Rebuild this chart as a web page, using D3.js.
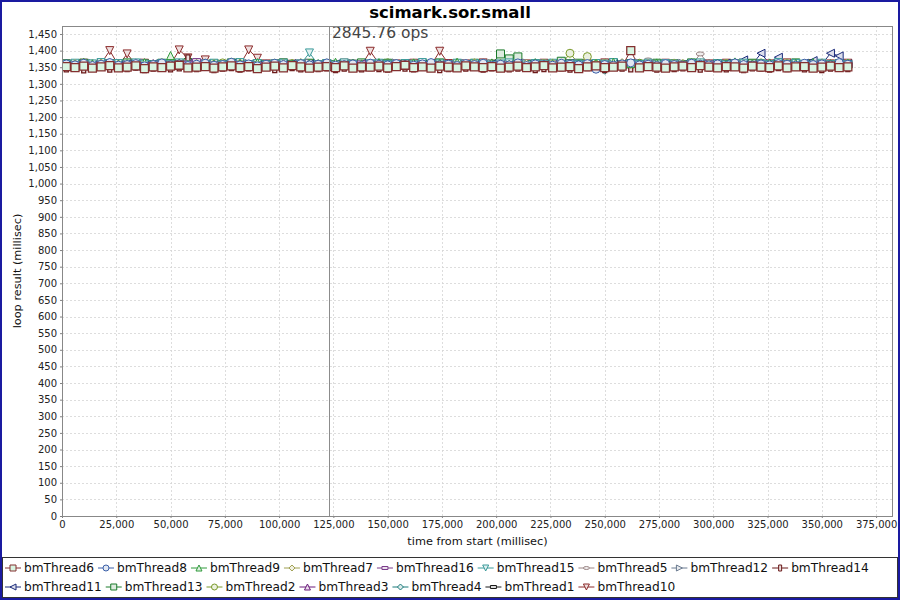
<!DOCTYPE html>
<html><head><meta charset="utf-8">
<script src="https://cdn.jsdelivr.net/npm/d3@7/dist/d3.min.js"></script>
<style>body{margin:0;background:#fff}svg{display:block}</style>
</head><body><svg id="c" width="900" height="600"></svg>
<script>
const title = "scimark.sor.small";
const yLabel = "loop result (millisec)";
const xLabel = "time from start (millisec)";
const markerValue = 123000;
const markerText = "2845.76 ops";
const yTicks = d3.range(0, 1451, 50);
const xTicks = d3.range(0, 375001, 25000);
const seriesNames = ["bmThread6","bmThread8","bmThread9","bmThread7","bmThread16","bmThread15","bmThread5","bmThread12","bmThread14","bmThread11","bmThread13","bmThread2","bmThread3","bmThread4","bmThread1","bmThread10"];
const seriesColors = ["#843030","#3a5fa8","#2e9a3a","#a0a050","#7a3a8a","#3a9a9a","#9a8585","#6a7a90","#6b1a1a","#1a2a7a","#1a7a2a","#7a9a2a","#6a1a7a","#1a7a7a","#1a1a1a","#8b2a2a"];
const times = [2000,6000,10000,14000,18000,22000,26000,30000,34000,38000,42000,46000,50000,54000,58000,62000,66000,70000,74000,78000,82000,86000,90000,94000,98000,102000,106000,110000,114000,118000,122000,126000,130000,134000,138000,142000,146000,150000,154000,158000,162000,166000,170000,174000,178000,182000,186000,190000,194000,198000,202000,206000,210000,214000,218000,222000,226000,230000,234000,238000,242000,246000,250000,254000,258000,262000,266000,270000,274000,278000,282000,286000,290000,294000,298000,302000,306000,310000,314000,318000,322000,326000,330000,334000,338000,342000,346000,350000,354000,358000,362000];
const bmThread6 = [1352,1349,1353,1347,1351,1355,1348,1350,1354,1346,1351,1349,1353,1356,1348,1350,1352,1347,1351,1354,1349,1352,1346,1350,1353,1348,1355,1351,1347,1350,1352,1349,1354,1347,1351,1350,1353,1348,1352,1356,1349,1351,1347,1353,1350,1348,1354,1351,1349,1352,1347,1350,1353,1349,1351,1355,1348,1350,1352,1346,1351,1354,1349,1350,1353,1400,1348,1352,1350,1347,1351,1353,1349,1355,1350,1348,1352,1351,1347,1353,1350,1349,1354,1348,1351,1352,1347,1350,1353,1349,1351];
const bmThread8 = [1360,1357,1362,1355,1359,1364,1356,1358,1361,1354,1358,1363,1357,1360,1355,1359,1362,1356,1358,1365,1357,1360,1354,1359,1362,1358,1356,1361,1357,1359,1363,1356,1358,1360,1355,1362,1359,1357,1361,1358,1356,1360,1364,1357,1359,1355,1361,1358,1362,1356,1359,1357,1363,1355,1360,1358,1356,1362,1359,1357,1361,1344,1358,1356,1360,1363,1357,1359,1355,1361,1358,1356,1362,1359,1357,1360,1355,1363,1358,1356,1360,1357,1361,1359,1356,1362,1358,1360,1357,1364,1359];
const bmThread9 = [1362,1358,1365,1360,1357,1363,1359,1361,1356,1364,1360,1358,1385,1362,1359,1357,1363,1360,1358,1366,1361,1357,1364,1359,1362,1356,1360,1363,1358,1361,1359,1365,1357,1362,1360,1358,1364,1356,1361,1359,1363,1357,1360,1362,1358,1365,1359,1361,1357,1363,1360,1358,1362,1356,1364,1359,1361,1357,1363,1360,1358,1362,1359,1365,1357,1361,1360,1356,1363,1359,1361,1358,1364,1360,1357,1362,1359,1366,1358,1361,1359,1363,1357,1360,1362,1358,1364,1359,1361,1357,1362];
const bmThread7 = [1357,1361,1355,1359,1363,1356,1360,1358,1362,1355,1359,1364,1357,1360,1356,1362,1358,1361,1355,1359,1363,1357,1360,1358,1356,1361,1359,1364,1357,1360,1355,1362,1358,1360,1357,1363,1359,1356,1361,1358,1360,1357,1362,1355,1359,1361,1358,1364,1356,1360,1362,1358,1356,1361,1359,1357,1363,1360,1358,1355,1359,1362,1357,1360,1364,1358,1356,1361,1359,1357,1363,1360,1358,1356,1361,1359,1357,1362,1360,1355,1358,1361,1359,1363,1357,1360,1356,1362,1358,1360,1357];
const bmThread16 = [1356,1359,1354,1358,1361,1355,1357,1360,1353,1358,1360,1355,1358,1356,1362,1370,1357,1359,1354,1358,1361,1356,1359,1357,1355,1360,1358,1362,1356,1359,1357,1354,1360,1358,1363,1356,1359,1357,1361,1355,1358,1360,1356,1359,1362,1357,1355,1360,1358,1356,1361,1359,1357,1355,1360,1358,1362,1356,1359,1357,1354,1360,1358,1356,1361,1359,1357,1362,1355,1358,1360,1357,1359,1356,1363,1358,1355,1360,1357,1359,1361,1356,1358,1360,1355,1359,1357,1362,1358,1356,1359];
const bmThread15 = [1359,1362,1357,1360,1364,1358,1361,1356,1363,1359,1357,1361,1359,1363,1356,1360,1358,1362,1357,1360,1364,1358,1361,1357,1359,1362,1356,1360,1393,1358,1361,1357,1363,1359,1356,1360,1362,1358,1357,1361,1359,1364,1356,1360,1358,1362,1357,1361,1359,1356,1360,1363,1358,1357,1361,1359,1362,1356,1360,1358,1357,1361,1359,1364,1356,1360,1358,1362,1357,1361,1359,1356,1360,1363,1358,1361,1357,1359,1362,1356,1360,1358,1364,1357,1361,1359,1356,1362,1358,1360,1357];
const bmThread5 = [1358,1355,1360,1357,1362,1356,1359,1361,1354,1358,1361,1357,1359,1355,1362,1358,1356,1360,1357,1363,1356,1359,1361,1357,1358,1355,1360,1362,1356,1359,1357,1361,1355,1360,1358,1363,1356,1359,1357,1361,1355,1358,1362,1356,1360,1357,1359,1361,1355,1358,1362,1356,1359,1357,1361,1358,1355,1360,1363,1356,1359,1357,1361,1355,1358,1362,1356,1372,1357,1360,1358,1361,1356,1390,1359,1357,1362,1355,1360,1358,1356,1361,1359,1357,1363,1355,1360,1358,1362,1356,1359];
const bmThread12 = [1357,1360,1356,1362,1358,1355,1361,1359,1357,1363,1355,1359,1361,1357,1360,1356,1362,1358,1355,1360,1358,1362,1357,1355,1361,1359,1356,1360,1363,1357,1360,1356,1358,1362,1355,1359,1361,1357,1363,1356,1359,1361,1355,1358,1360,1356,1362,1357,1359,1361,1356,1360,1358,1363,1355,1361,1357,1359,1356,1362,1360,1355,1358,1361,1357,1359,1363,1356,1360,1358,1355,1362,1357,1359,1361,1356,1360,1358,1364,1357,1361,1359,1356,1360,1362,1358,1355,1361,1357,1359,1360];
const bmThread14 = [1348,1352,1345,1350,1354,1347,1351,1349,1353,1346,1350,1354,1348,1351,1375,1349,1353,1346,1350,1352,1347,1351,1349,1354,1346,1350,1352,1348,1353,1349,1351,1346,1350,1353,1348,1352,1349,1347,1354,1350,1348,1353,1351,1346,1349,1352,1350,1354,1347,1351,1353,1348,1350,1352,1346,1349,1354,1351,1347,1350,1352,1349,1346,1353,1350,1348,1351,1354,1347,1352,1349,1351,1353,1347,1350,1352,1348,1354,1346,1351,1350,1347,1352,1349,1353,1348,1351,1346,1350,1354,1349];
const bmThread11 = [1356,1359,1354,1358,1361,1355,1357,1360,1353,1358,1360,1355,1358,1356,1361,1357,1359,1354,1358,1362,1356,1359,1357,1355,1360,1358,1361,1356,1359,1357,1354,1360,1358,1356,1361,1357,1359,1355,1358,1362,1357,1355,1360,1358,1356,1361,1359,1357,1354,1360,1358,1356,1361,1359,1357,1355,1360,1358,1362,1356,1359,1357,1355,1360,1358,1361,1356,1359,1357,1354,1360,1358,1356,1361,1359,1357,1362,1355,1372,1358,1392,1360,1380,1357,1359,1362,1370,1358,1392,1384,1360];
const bmThread13 = [1360,1357,1362,1358,1355,1361,1359,1363,1356,1360,1358,1362,1357,1360,1364,1356,1359,1361,1357,1363,1359,1356,1361,1358,1360,1363,1357,1359,1362,1356,1361,1358,1360,1356,1363,1359,1357,1362,1358,1360,1357,1361,1359,1363,1356,1360,1358,1362,1357,1359,1390,1375,1381,1358,1361,1357,1360,1368,1359,1362,1356,1360,1358,1363,1357,1361,1359,1356,1362,1358,1360,1357,1363,1359,1356,1361,1358,1360,1357,1362,1359,1356,1361,1358,1363,1357,1360,1359,1356,1361,1358];
const bmThread2 = [1358,1361,1356,1360,1357,1363,1359,1355,1362,1358,1356,1360,1358,1362,1357,1359,1361,1356,1363,1358,1360,1357,1359,1355,1362,1358,1361,1357,1360,1356,1362,1359,1357,1361,1358,1356,1360,1363,1357,1359,1361,1356,1358,1360,1357,1363,1359,1355,1361,1358,1357,1360,1362,1356,1359,1361,1358,1357,1392,1360,1382,1358,1361,1356,1360,1357,1362,1359,1356,1361,1358,1360,1357,1362,1356,1359,1361,1358,1360,1357,1363,1356,1359,1361,1358,1360,1357,1362,1356,1359,1361];
const bmThread3 = [1359,1356,1361,1358,1355,1360,1362,1357,1359,1354,1361,1357,1360,1356,1358,1363,1355,1359,1361,1357,1358,1355,1362,1359,1357,1360,1356,1361,1358,1354,1360,1357,1359,1362,1356,1358,1361,1355,1360,1357,1362,1358,1356,1359,1361,1357,1355,1360,1358,1362,1356,1359,1357,1361,1355,1360,1358,1356,1362,1359,1357,1361,1355,1358,1360,1362,1356,1359,1357,1361,1355,1360,1358,1356,1362,1359,1357,1361,1355,1358,1360,1362,1356,1359,1357,1361,1358,1355,1360,1357,1362];
const bmThread4 = [1355,1358,1353,1357,1360,1354,1356,1359,1352,1357,1359,1354,1357,1355,1360,1356,1358,1353,1357,1361,1355,1358,1356,1354,1359,1357,1360,1355,1358,1356,1353,1359,1357,1355,1360,1356,1358,1354,1357,1361,1356,1354,1359,1357,1355,1360,1358,1356,1353,1359,1357,1355,1360,1358,1356,1354,1359,1357,1361,1355,1358,1356,1341,1359,1357,1360,1355,1358,1356,1353,1359,1357,1355,1360,1358,1356,1361,1354,1357,1359,1356,1360,1358,1355,1357,1361,1356,1359,1354,1358,1357];
const bmThread1 = [1353,1356,1351,1355,1358,1352,1354,1357,1350,1355,1357,1352,1355,1353,1358,1354,1356,1351,1355,1359,1353,1356,1354,1352,1357,1355,1358,1353,1356,1354,1351,1357,1355,1353,1358,1354,1356,1352,1355,1359,1354,1352,1357,1355,1353,1358,1356,1354,1351,1357,1355,1353,1358,1356,1354,1352,1357,1355,1359,1353,1356,1354,1352,1357,1355,1358,1353,1356,1354,1351,1357,1355,1353,1358,1356,1354,1359,1352,1355,1357,1354,1358,1356,1353,1355,1359,1354,1357,1352,1356,1355];
const bmThread10 = [1360,1357,1362,1358,1361,1400,1356,1390,1359,1362,1357,1360,1358,1402,1378,1359,1372,1361,1357,1360,1358,1402,1377,1360,1357,1362,1359,1356,1361,1358,1360,1357,1362,1359,1356,1398,1361,1358,1360,1357,1362,1359,1356,1398,1361,1358,1360,1357,1363,1359,1356,1361,1358,1360,1357,1362,1359,1356,1361,1358,1360,1357,1363,1359,1356,1361,1358,1360,1357,1362,1359,1356,1361,1358,1360,1357,1362,1359,1356,1361,1358,1360,1357,1363,1359,1356,1361,1358,1360,1357,1362];
const seriesValues = [bmThread6,bmThread8,bmThread9,bmThread7,bmThread16,bmThread15,bmThread5,bmThread12,bmThread14,bmThread11,bmThread13,bmThread2,bmThread3,bmThread4,bmThread1,bmThread10];

const svg = d3.select("#c");
const W = 900, H = 600;
const plot = {l: 62, r: 893, t: 26, b: 516};
const x = d3.scaleLinear().domain([0, 382800]).range([plot.l, plot.r]);
const y = d3.scaleLinear().domain([0, 1474]).range([plot.b, plot.t]);
const font = "'DejaVu Sans', Verdana, sans-serif";

svg.append("rect").attr("width", W).attr("height", H).attr("fill", "#fff");

svg.append("text").attr("x", 450).attr("y", 18).attr("text-anchor", "middle")
  .attr("font-family", font).attr("font-weight", "bold").attr("font-size", 16.5).text(title);

svg.append("rect").attr("x", plot.l).attr("y", plot.t).attr("width", plot.r - plot.l).attr("height", plot.b - plot.t).attr("fill", "#fff");

const grid = svg.append("g").attr("stroke", "#d4d4d4").attr("stroke-width", 0.8).attr("stroke-dasharray", "2,2");
grid.selectAll(".gy").data(yTicks).join("line").attr("x1", plot.l).attr("x2", plot.r)
  .attr("y1", d => Math.round(y(d)) + 0.5).attr("y2", d => Math.round(y(d)) + 0.5);
grid.selectAll(".gx").data(xTicks).join("line").attr("y1", plot.t).attr("y2", plot.b)
  .attr("x1", d => Math.round(x(d)) + 0.5).attr("x2", d => Math.round(x(d)) + 0.5);

const fmt = d3.format(",");
const yAxis = svg.append("g").attr("transform", `translate(${plot.l},0)`)
  .call(d3.axisLeft(y).tickValues(yTicks).tickFormat(fmt).tickSize(2).tickPadding(3));
const xAxis = svg.append("g").attr("transform", `translate(0,${plot.b})`)
  .call(d3.axisBottom(x).tickValues(xTicks).tickFormat(fmt).tickSize(2).tickPadding(3));
[yAxis, xAxis].forEach(a => {
  a.select(".domain").remove();
  a.selectAll("line").attr("stroke", "#808080");
  a.selectAll("text").attr("font-family", font).attr("font-size", 10).attr("fill", "#222");
});

svg.append("text").attr("x", (plot.l + plot.r) / 2).attr("y", 545).attr("text-anchor", "middle")
  .attr("font-family", font).attr("font-size", 11.3).attr("fill", "#111").text(xLabel);
svg.append("text").attr("transform", `translate(21,${(plot.t + plot.b) / 2}) rotate(-90)`).attr("text-anchor", "middle")
  .attr("font-family", font).attr("font-size", 11.3).attr("fill", "#111").text(yLabel);

function shapePath(k, s) {
  const h = s / 2, q = s / 4;
  switch (k % 10) {
    case 0: return `M${-h},${-h}H${h}V${h}H${-h}Z`;
    case 1: return `M${-h},0A${h},${h} 0 1,0 ${h},0A${h},${h} 0 1,0 ${-h},0Z`;
    case 2: return `M0,${-h}L${h},${h}L${-h},${h}Z`;
    case 3: return `M0,${-h}L${h},0L0,${h}L${-h},0Z`;
    case 4: return `M${-h},${-q}H${h}V${q}H${-h}Z`;
    case 5: return `M${-h},${-h}L${h},${-h}L0,${h}Z`;
    case 6: return `M${-h},0A${h},${q} 0 1,0 ${h},0A${h},${q} 0 1,0 ${-h},0Z`;
    case 7: return `M${-h},${-h}L${h},0L${-h},${h}Z`;
    case 8: return `M${-q},${-h}H${q}V${h}H${-q}Z`;
    case 9: return `M${h},${-h}L${-h},0L${h},${h}Z`;
  }
}
function fillFor(i) {
  if (i === 0) return "#d8f5e2";
  return d3.interpolateRgb(seriesColors[i], "#ffffff")(0.85);
}

svg.append("clipPath").attr("id", "pc").append("rect")
  .attr("x", plot.l).attr("y", plot.t).attr("width", plot.r - plot.l).attr("height", plot.b - plot.t);
const data = svg.append("g").attr("clip-path", "url(#pc)");
const order = d3.range(seriesNames.length).reverse();
const line = d3.line().x(d => x(d[0])).y(d => y(d[1]));
const linesG = data.append("g");
const shapesG = data.append("g");
order.forEach(i => {
  const pts = times.map((t, j) => [t, seriesValues[i][j]]);
  linesG.append("path").datum(pts).attr("d", line).attr("fill", "none")
    .attr("stroke", seriesColors[i]).attr("stroke-width", 1);
});
order.forEach(i => {
  const pts = times.map((t, j) => [t, seriesValues[i][j]]);
  shapesG.append("g").selectAll("path").data(pts).join("path")
    .attr("transform", d => `translate(${x(d[0])},${y(d[1])})`)
    .attr("d", shapePath(i, 8)).attr("fill", fillFor(i))
    .attr("stroke", seriesColors[i]).attr("stroke-width", i === 0 || i === 8 ? 1.3 : 1);
});

svg.append("line").attr("x1", Math.round(x(markerValue)) + 0.5).attr("x2", Math.round(x(markerValue)) + 0.5)
  .attr("y1", plot.t).attr("y2", plot.b).attr("stroke", "#8c8c8c").attr("stroke-width", 1);
svg.append("text").attr("x", x(markerValue) + 3).attr("y", 38).attr("font-family", font)
  .attr("font-size", 15.5).attr("fill", "#444").text(markerText);

svg.append("rect").attr("x", plot.l + 0.5).attr("y", plot.t + 0.5).attr("width", plot.r - plot.l - 1).attr("height", plot.b - plot.t)
  .attr("fill", "none").attr("stroke", "#888");

const lg = svg.append("g");
lg.append("rect").attr("x", 2.5).attr("y", 557.5).attr("width", 895).attr("height", 40)
  .attr("fill", "#fff").attr("stroke", "#333");
let lx = 5, ly = 568;
seriesNames.forEach((name, i) => {
  const g = lg.append("g");
  const t = g.append("text").attr("font-family", font).attr("font-size", 12.2).attr("fill", "#111")
    .attr("dy", "0.35em").text(name);
  const tw = t.node().getComputedTextLength();
  const itemW = 16 + 3 + tw + 4;
  if (lx + itemW > 895) { lx = 5; ly = 587; }
  g.attr("transform", `translate(${lx},${ly})`);
  g.insert("line", "text").attr("x1", 0).attr("x2", 16).attr("y1", 0).attr("y2", 0)
    .attr("stroke", seriesColors[i]).attr("stroke-width", 1);
  g.insert("path", "text").attr("transform", "translate(8,0)").attr("d", shapePath(i, 6))
    .attr("fill", fillFor(i)).attr("stroke", seriesColors[i]).attr("stroke-width", 1);
  t.attr("x", 19);
  lx += itemW;
});

svg.append("rect").attr("x", 1).attr("y", 1).attr("width", W - 2).attr("height", H - 2)
  .attr("fill", "none").attr("stroke", "#1a1aa0").attr("stroke-width", 2);
</script>
</body></html>
